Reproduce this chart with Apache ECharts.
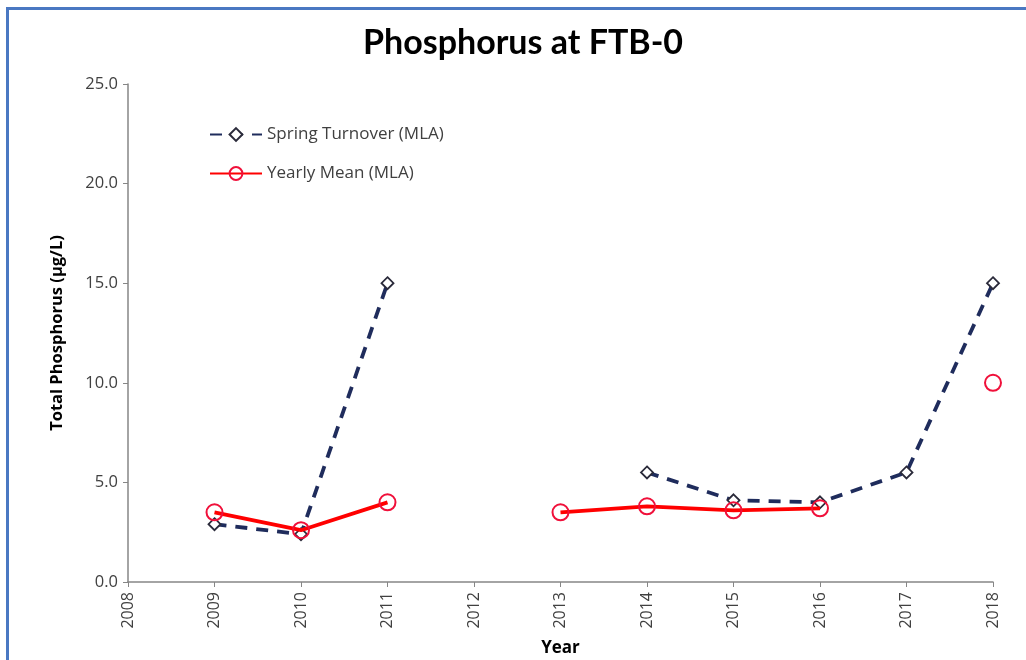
<!DOCTYPE html>
<html><head><meta charset="utf-8">
<script src="https://cdn.jsdelivr.net/npm/echarts@6/dist/echarts.min.js"></script>
<style>html,body{margin:0;padding:0;background:#fff}#c{width:1026px;height:660px}</style>
</head><body><div id="c"></div>
<script>
const years = ['2008','2009','2010','2011','2012','2013','2014','2015','2016','2017','2018'];
const springTurnover = [null, 2.9, 2.4, 15.0, null, null, 5.5, 4.1, 4.0, 5.5, 15.0];
const yearlyMean = [null, 3.5, 2.6, 4.0, null, 3.5, 3.8, 3.6, 3.7, null, 10.0];
const yTicks = { min: 0, max: 25, interval: 5 };

const font = "'Open Sans', 'Noto Sans', sans-serif";
const chart = echarts.init(document.getElementById('c'));
chart.setOption({
  animation: false,
  backgroundColor: '#fff',
  graphic: [{
    type: 'rect', shape: { x: 7.5, y: 8.5, width: 1100, height: 700 },
    style: { fill: 'none', stroke: '#4a78c2', lineWidth: 3 }, silent: true, z: 100
  }],
  title: {
    text: 'Phosphorus at FTB-0', left: 358, top: 21,
    textStyle: { fontFamily: 'Lato, sans-serif', fontWeight: 'bold', fontSize: 34, color: '#000' }
  },
  legend: {
    orient: 'vertical', left: 204, top: 121, itemGap: 22, itemWidth: 52, itemHeight: 16,
    textStyle: { fontFamily: font, fontSize: 17, color: '#404040' },
    data: ['Spring Turnover (MLA)', 'Yearly Mean (MLA)']
  },
  grid: { left: 128, right: 33, top: 84, bottom: 78, containLabel: false, outerBoundsMode: 'none' },
  xAxis: {
    type: 'category', data: years, boundaryGap: false,
    name: 'Year', nameLocation: 'middle', nameGap: 58,
    nameTextStyle: { fontFamily: font, fontWeight: 'bold', fontSize: 17, color: '#000' },
    axisLine: { lineStyle: { color: '#868686', width: 1.5 } },
    axisTick: { show: true, length: 5, lineStyle: { color: '#868686' } },
    axisLabel: { rotate: 90, fontFamily: font, fontSize: 16, color: '#404040', margin: 10 }
  },
  yAxis: {
    type: 'value', min: yTicks.min, max: yTicks.max, interval: yTicks.interval,
    name: 'Total Phosphorus (µg/L)', nameLocation: 'middle', nameGap: 62,
    nameTextStyle: { fontFamily: font, fontWeight: 'bold', fontSize: 16.5, color: '#000' },
    splitLine: { show: false },
    axisLine: { show: true, lineStyle: { color: '#868686', width: 1.5 } },
    axisTick: { show: true, length: 5, lineStyle: { color: '#868686' } },
    axisLabel: { fontFamily: font, fontSize: 16.5, color: '#404040', margin: 10, formatter: v => v.toFixed(1) }
  },
  series: [{
    name: 'Spring Turnover (MLA)', type: 'line', data: springTurnover,
    connectNulls: false,
    lineStyle: { color: '#1f2c5c', width: 3.8, type: [12, 9] },
    itemStyle: { color: '#fff', borderColor: '#2a2a3a', borderWidth: 1.8 },
    symbol: 'diamond', symbolSize: 12, showAllSymbol: true, z: 2
  }, {
    name: 'Yearly Mean (MLA)', type: 'line', data: yearlyMean,
    connectNulls: false,
    lineStyle: { color: '#ff0000', width: 3.8 },
    itemStyle: { color: 'rgba(255,255,255,0)', borderColor: '#f0103a', borderWidth: 2 },
    symbol: 'circle', symbolSize: 16, showAllSymbol: true, z: 3
  }]
});
</script></body></html>
